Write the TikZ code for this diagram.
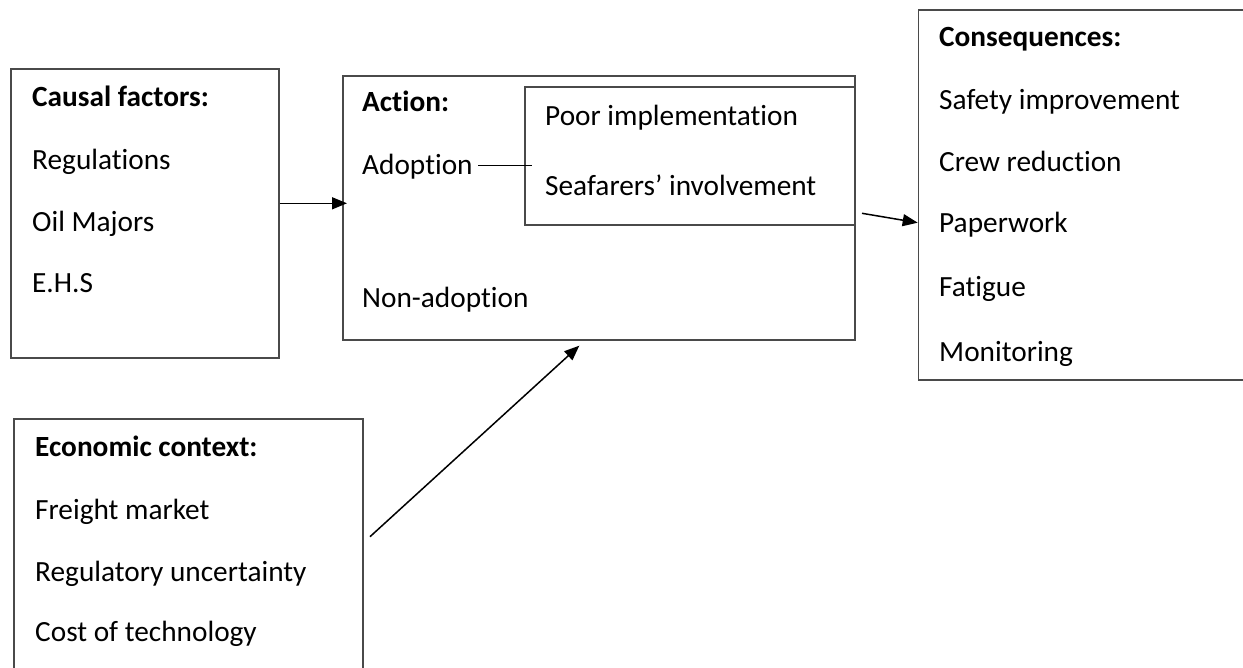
\documentclass[tikz,border=0pt]{standalone}
\usepackage{fontspec}
\setmainfont{Carlito}[RawFeature=-liga]
\usetikzlibrary{arrows.meta}
\definecolor{boxgray}{HTML}{4A4A4A}
\begin{document}
\begin{tikzpicture}[x=1pt,y=-1pt,
  frame/.style={draw=boxgray, line width=1.6pt, inner sep=0pt, anchor=north west},
  lbl/.style={inner sep=0pt, anchor=base west, font=\fontsize{29.3}{32}\selectfont},
  head/.style={lbl, font=\fontsize{29.3}{32}\selectfont\bfseries},
  link/.style={draw=black, line width=1.5pt},
  arr/.style={link, -{Triangle[length=15pt,width=12pt]}}]
\clip (0,0) rectangle (1243,668);

% frames
\node[frame, minimum width=268pt, minimum height=289pt] (causal) at (10,68) {};
\node[frame, minimum width=512pt, minimum height=264pt] (action) at (342,75) {};
\node[frame, minimum width=330pt, minimum height=137.5pt] (inner) at (524,86.5) {};
\node[frame, minimum width=340pt, minimum height=370pt] (conseq) at (917.7,9) {};
\node[frame, minimum width=349pt, minimum height=300pt] (econ) at (13,418.3) {};

% causal factors
\node[head] (cfh) at (32,106.7) {Causal factors:};
\node[lbl] (cf1) at (32,170) {Regulations};
\node[lbl] (cf2) at (32,231.7) {Oil Majors};
\node[lbl] (cf3) at (32,293) {E.H.S};

% action
\node[head] (ach) at (362,112) {Action:};
\node[lbl] (adopt) at (362,175) {Adoption};
\node[lbl] (nonadopt) at (362,308) {Non-adoption};
\node[lbl] (poor) at (545,126) {Poor implementation};
\node[lbl] (seaf) at (545,196) {Seafarers’ involvement};

% consequences
\node[head] (coh) at (939,46.7) {Consequences:};
\node[lbl] (co1) at (939,110) {Safety improvement};
\node[lbl] (co2) at (939,171.7) {Crew reduction};
\node[lbl] (co3) at (939,233) {Paperwork};
\node[lbl] (co4) at (939,296.7) {Fatigue};
\node[lbl] (co5) at (939,361.7) {Monitoring};

% economic context
\node[head] (ech) at (35,456) {Economic context:};
\node[lbl] (ec1) at (35,519.3) {Freight market};
\node[lbl] (ec2) at (35,581.7) {Regulatory uncertainty};
\node[lbl] (ec3) at (35,641.7) {Cost of technology};

% connectors
\coordinate (adoptY) at (0,165.3);
\draw[link] ([xshift=5.5pt]adopt.east |- adoptY) -- ([xshift=7.5pt]inner.west |- adoptY);
\coordinate (c1y) at (0,203.3);
\draw[arr] (causal.east |- c1y) -- ([xshift=5pt]action.west |- c1y);
\coordinate (c2a) at (862,213.3);
\coordinate (c2b) at (916,222.7);
\draw[arr] (c2a) -- (c2b -| conseq.west);
\coordinate (c3a) at (370,536.7);
\coordinate (c3b) at (579.3,345.7);
\draw[arr] (c3a) -- (c3b);
\end{tikzpicture}
\end{document}
